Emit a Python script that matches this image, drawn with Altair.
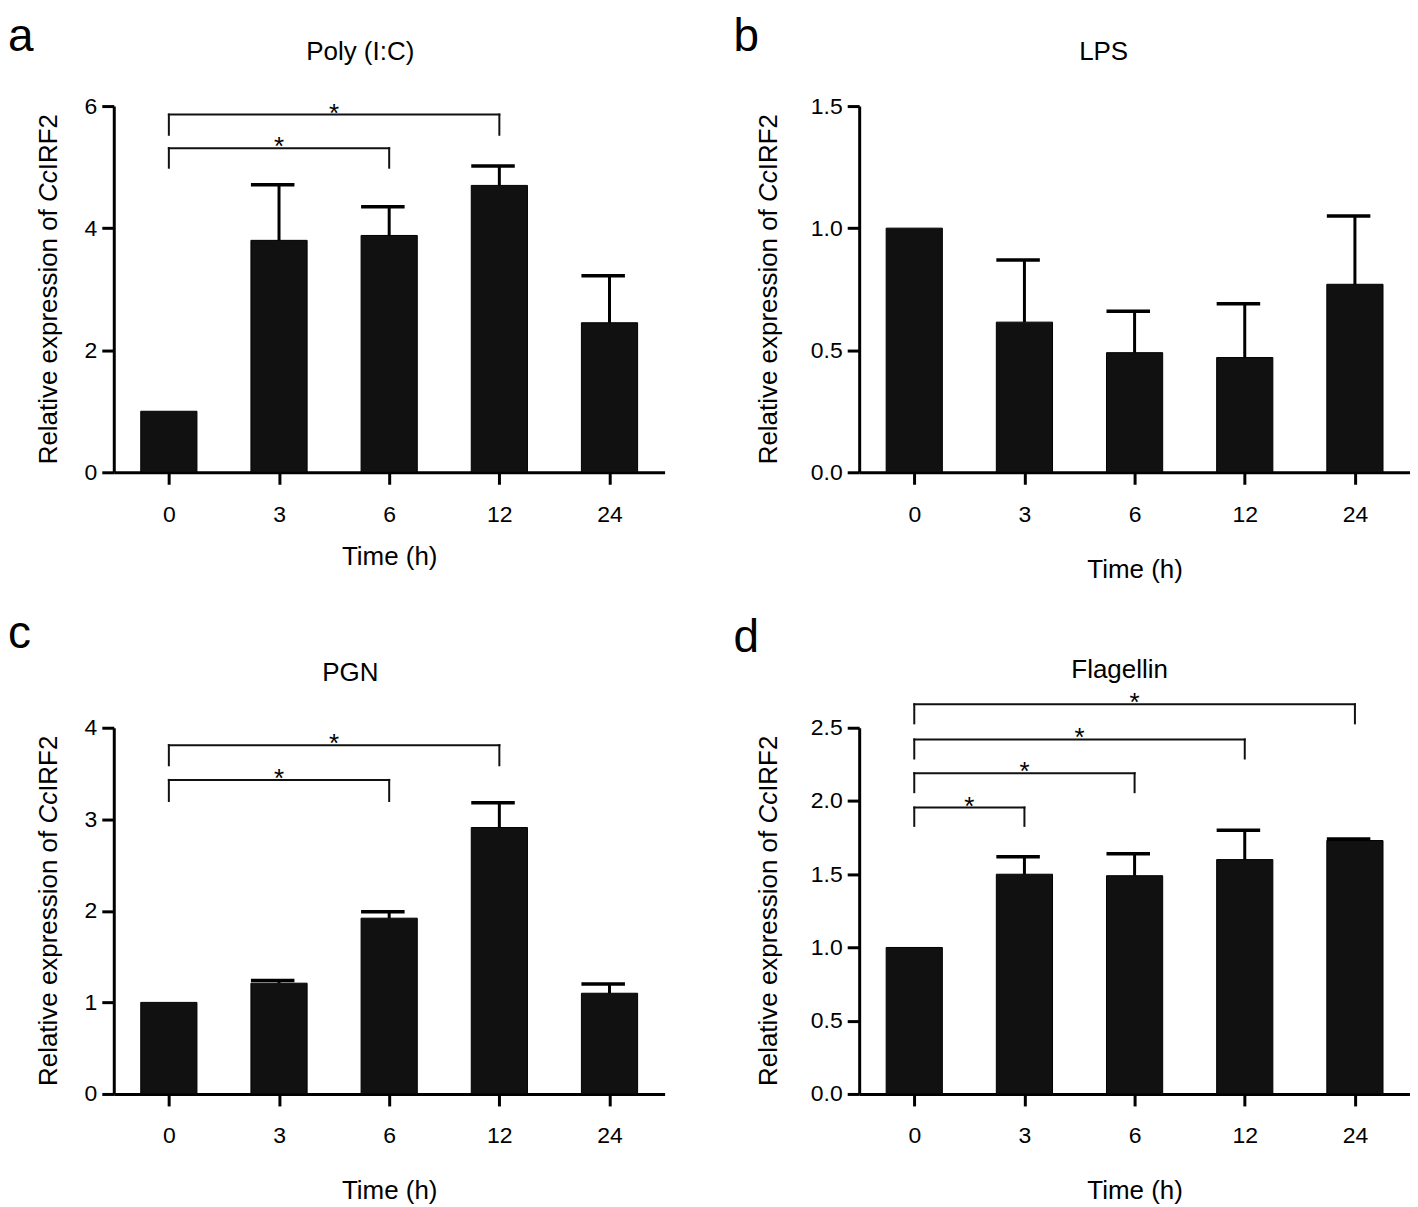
import json
import altair as alt
import pandas as pd

# ---------------- data ----------------
times = ["0", "3", "6", "12", "24"]
positions = [0, 1, 2, 3, 4]

poly_mean = [1.00, 3.80, 3.88, 4.70, 2.45]
poly_upper = [1.00, 4.71, 4.35, 5.02, 3.22]
poly_br_start = [0, 0]
poly_br_end = [3, 2]
poly_br_level = [5.86, 5.31]
poly_br_low = [5.53, 4.99]

lps_mean = [1.00, 0.615, 0.49, 0.47, 0.77]
lps_upper = [1.00, 0.87, 0.66, 0.69, 1.05]

pgn_mean = [1.00, 1.21, 1.92, 2.91, 1.10]
pgn_upper = [1.00, 1.24, 1.99, 3.18, 1.20]
pgn_br_start = [0, 0]
pgn_br_end = [3, 2]
pgn_br_level = [3.81, 3.43]
pgn_br_low = [3.59, 3.20]

flag_mean = [1.00, 1.50, 1.49, 1.60, 1.73]
flag_upper = [1.00, 1.62, 1.64, 1.80, 1.74]
flag_br_start = [0, 0, 0, 0]
flag_br_end = [4, 3, 2, 1]
flag_br_level = [2.66, 2.42, 2.19, 1.955]
flag_br_low = [2.53, 2.29, 2.06, 1.83]

panel_titles = ["Poly (I:C)", "LPS", "PGN", "Flagellin"]
panel_letters = ["a", "b", "c", "d"]
y_title_parts = ["Relative expression of", "Cc", "IRF2"]   # "Cc" in italics
x_title = "Time (h)"

FONT = "Liberation Sans"
W, H = 552, 367
label_expr = json.dumps(times) + "[datum.value]"

# advance widths (px at 26px Liberation Sans) of the three y-title pieces
TITLE_FS = 26
PART_W = [263.0, 31.8, 56.3]


def text_layer(txt, x, y, size, align="left", angle=0, style="normal"):
    return alt.Chart(pd.DataFrame({"t": [txt]})).mark_text(
        font=FONT, fontSize=size, align=align, baseline="alphabetic",
        color="black", angle=angle, fontStyle=style).encode(
        x=alt.value(x), y=alt.value(y), text="t")


def panel(mean, upper, br_start, br_end, br_level, br_low, ymax, yvals, yfmt,
          title, letter, title_x, title_y, xtitle_pad, ytitle_x,
          letter_x, letter_y):
    df = pd.DataFrame({"pos": positions, "time": times, "mean": mean, "upper": upper})
    df["zero"] = 0.0
    df["xl"] = df["pos"] - 0.255
    df["xr"] = df["pos"] + 0.255
    df["cl"] = df["pos"] - 0.255
    df["cr"] = df["pos"] + 0.14
    err = df[df["upper"] > df["mean"]]

    xscale = alt.Scale(domain=[-0.5, 4.5], nice=False, zero=False)
    yscale = alt.Scale(domain=[0, ymax], nice=False)
    xaxis = alt.Axis(values=positions, labelExpr=label_expr, title=x_title,
                     grid=False, labelAngle=0, tickSize=12, tickWidth=3,
                     domainWidth=3, labelPadding=19, titlePadding=xtitle_pad,
                     labelFontSize=23, titleFontSize=26, titleFontWeight="normal",
                     labelFont=FONT, titleFont=FONT, labelColor="black",
                     titleColor="black", domainColor="black", tickColor="black")
    yaxis = alt.Axis(values=yvals, format=yfmt, title=None, grid=False,
                     tickSize=12, tickWidth=3, domainWidth=3, labelPadding=5,
                     labelFontSize=23, labelFont=FONT, labelColor="black",
                     domainColor="black", tickColor="black")

    def X(f):
        return alt.X(f, type="quantitative", scale=xscale, axis=xaxis, title=x_title)

    def Y(f):
        return alt.Y(f, type="quantitative", scale=yscale, axis=yaxis, title=None)

    bars = alt.Chart(df).mark_rect(color="#111111", stroke="#000000", strokeWidth=1).encode(
        x=X("xl"), x2="xr", y=Y("mean"), y2="zero")
    stem = alt.Chart(err).mark_rule(color="black", strokeWidth=3).encode(
        x=X("pos"), y=Y("mean"), y2="upper")
    cap = alt.Chart(err).mark_rule(color="black", strokeWidth=3.5).encode(
        x=X("cl"), x2="cr", y=Y("upper"))
    layers = [bars, stem, cap]

    if br_start:
        br = pd.DataFrame({"s": br_start, "e": br_end, "level": br_level, "low": br_low})
        br["mid"] = (br["s"] + br["e"]) / 2.0
        br["star"] = "*"
        ends = pd.concat([
            pd.DataFrame({"p": br["s"], "level": br["level"], "low": br["low"]}),
            pd.DataFrame({"p": br["e"], "level": br["level"], "low": br["low"]}),
        ])
        hline = alt.Chart(br).mark_rule(color="#111111", strokeWidth=2, strokeCap="square").encode(
            x=X("s"), x2="e", y=Y("level"))
        vline = alt.Chart(ends).mark_rule(color="#111111", strokeWidth=2, strokeCap="square").encode(
            x=X("p"), y=Y("level"), y2="low")
        stars = alt.Chart(br).mark_text(font=FONT, fontSize=26, baseline="alphabetic",
                                        dy=7, color="black").encode(
            x=X("mid"), y=Y("level"), text="star")
        layers += [hline, vline, stars]

    # rotated y-axis title, pieces laid end to end, centred on the plot height
    total = sum(PART_W)
    y0 = H / 2 + total / 2
    y1 = y0 - PART_W[0]
    y2 = y1 - PART_W[1]
    layers += [
        text_layer(y_title_parts[0], ytitle_x, y0, TITLE_FS, angle=270),
        text_layer(y_title_parts[1], ytitle_x, y1, TITLE_FS, angle=270, style="italic"),
        text_layer(y_title_parts[2], ytitle_x, y2, TITLE_FS, angle=270),
        text_layer(title, title_x, title_y, 26, align="center"),
        text_layer(letter, letter_x, letter_y, 46),
    ]

    return alt.layer(*layers).properties(width=W, height=H)


pa = panel(poly_mean, poly_upper, poly_br_start, poly_br_end, poly_br_level, poly_br_low,
           6, [0, 2, 4, 6], "d", panel_titles[0], panel_letters[0], 247, -46, 17, -57, -106, -55)
pb = panel(lps_mean, lps_upper, [], [], [], [],
           1.5, [0, 0.5, 1.0, 1.5], ".1f", panel_titles[1], panel_letters[1], 245, -46, 30, -82, -126, -55)
pc = panel(pgn_mean, pgn_upper, pgn_br_start, pgn_br_end, pgn_br_level, pgn_br_low,
           4, [0, 1, 2, 3, 4], "d", panel_titles[2], panel_letters[2], 237, -47, 30, -57, -106, -80)
pd_ = panel(flag_mean, flag_upper, flag_br_start, flag_br_end, flag_br_level, flag_br_low,
            2.5, [0, 0.5, 1.0, 1.5, 2.0, 2.5], ".1f", panel_titles[3], panel_letters[3], 261, -50, 30, -82, -126, -76)

chart = alt.concat(pa, pb, pc, pd_, columns=2, spacing={"row": 29, "column": 69}).properties(
    padding={"top": 5, "left": 0, "right": 0, "bottom": 0}, background="white"
).configure_view(stroke=None)

chart.save("out.html", embed_options={"renderer": "svg", "actions": False})
